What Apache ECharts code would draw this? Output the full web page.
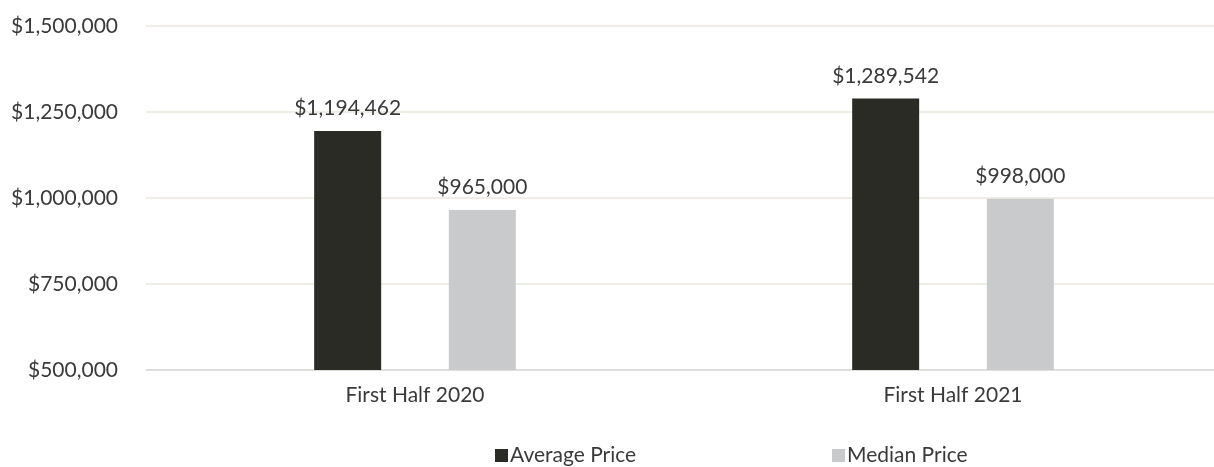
<!DOCTYPE html>
<html><head><meta charset="utf-8">
<script src="https://cdn.jsdelivr.net/npm/echarts@6/dist/echarts.min.js"></script>
<style>html,body{margin:0;padding:0;background:#fff;overflow:hidden}#c{width:1222px;height:467px}</style>
</head><body><div id="c"></div>
<script>
const categories = ['First Half 2020', 'First Half 2021'];
const averagePrice = [1194462, 1289542];
const medianPrice = [965000, 998000];
const seriesNames = ['Average Price', 'Median Price'];

const fmt = v => '$' + Number(v).toLocaleString('en-US');
const font = 'Lato, "Noto Sans", sans-serif';
const txt = '#3a3a3a';
const fs = 21;

const chart = echarts.init(document.getElementById('c'));
chart.setOption({
  animation: false,
  textStyle: { fontFamily: font },
  grid: { left: 146, top: 26, right: 0, height: 344, containLabel: false },
  legend: [
    { data: [seriesNames[0]], left: 490, top: 440, itemWidth: 13, itemHeight: 13, icon: 'rect', itemGap: 4,
      textStyle: { fontFamily: font, fontSize: fs, color: txt, padding: [0, 0, 0, -3] } },
    { data: [seriesNames[1]], left: 827, top: 440, itemWidth: 13, itemHeight: 13, icon: 'rect', itemGap: 4,
      textStyle: { fontFamily: font, fontSize: fs, color: txt, padding: [0, 0, 0, -3] } }
  ],
  xAxis: {
    type: 'category', data: categories,
    axisTick: { show: false },
    axisLine: { lineStyle: { color: '#d9d9d9', width: 1.5 } },
    axisLabel: { color: txt, fontSize: fs, margin: 15, fontFamily: font }
  },
  yAxis: {
    type: 'value', min: 500000, max: 1500000, interval: 250000,
    axisLabel: { formatter: fmt, color: txt, fontSize: fs, margin: 28, fontFamily: font },
    splitLine: { lineStyle: { color: '#ebe7df', width: 1.5 } },
    axisLine: { show: false }, axisTick: { show: false }
  },
  series: [
    { name: seriesNames[0], type: 'bar', data: averagePrice, barWidth: 67, barGap: '101%',
      itemStyle: { color: '#2b2b26' },
      label: { show: true, position: 'top', distance: 12, formatter: p => fmt(p.value), color: txt, fontSize: fs, fontFamily: font } },
    { name: seriesNames[1], type: 'bar', data: medianPrice, barWidth: 67,
      itemStyle: { color: '#c9cacc' },
      label: { show: true, position: 'top', distance: 12, formatter: p => fmt(p.value), color: txt, fontSize: fs, fontFamily: font } }
  ]
});
</script></body></html>
